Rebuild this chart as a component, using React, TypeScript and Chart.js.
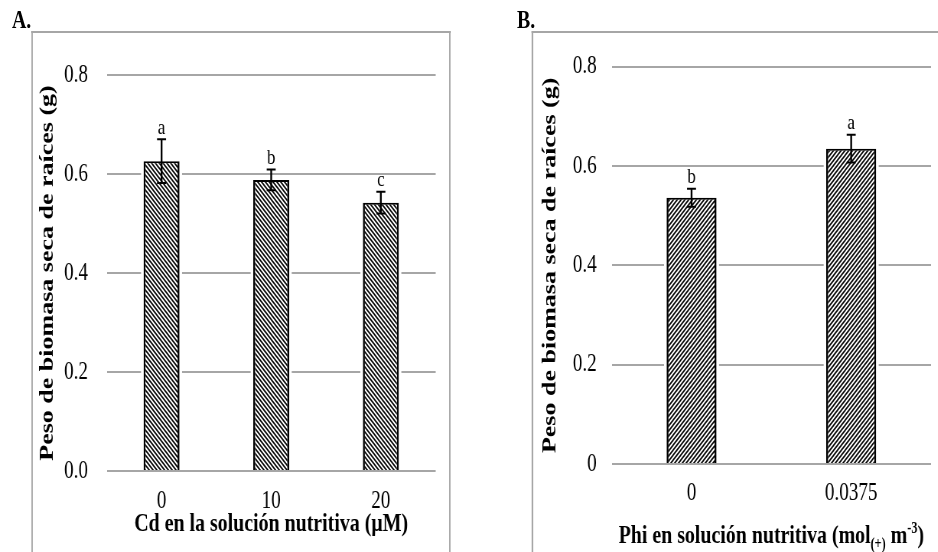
import { useEffect, useRef } from 'react';
import { Chart, registerables } from 'chart.js';

Chart.register(...registerables);

// Panel A: root dry biomass vs. Cd in the nutrient solution
const CATEGORIES_A = ['0', '10', '20'];
const MEANS_A = [0.626, 0.588, 0.542];
const ERRORS_A = [0.044, 0.021, 0.022];
const LETTERS_A = ['a', 'b', 'c'];
const Y_TICKS_A = ['0.0', '0.2', '0.4', '0.6', '0.8'];

// Panel B: root dry biomass vs. Phi in the nutrient solution
const CATEGORIES_B = ['0', '0.0375'];
const MEANS_B = [0.536, 0.635];
const ERRORS_B = [0.018, 0.028];
const LETTERS_B = ['b', 'a'];
const Y_TICKS_B = ['0', '0.2', '0.4', '0.6', '0.8'];

const Y_TITLE = 'Peso de biomasa seca de raíces (g)';
const X_TITLE_A = 'Cd en la solución nutritiva (µM)';

// The whole figure is drawn on a wider logical surface and compressed horizontally.
const SX = 0.765;
const FULL_W = 938 / SX;
const FONT = '"Liberation Serif", "Times New Roman", serif';
const GRID = '#a6a6a6';
const CAP = 5.9;

function hatch(dir: 1 | -1) {
  const s = 5;
  const c = document.createElement('canvas');
  c.width = s;
  c.height = s;
  const g = c.getContext('2d')!;
  g.fillStyle = '#fff';
  g.fillRect(0, 0, s, s);
  g.strokeStyle = '#000';
  g.lineWidth = 1.6;
  for (const k of [-1, 0, 1]) {
    g.beginPath();
    if (dir === 1) {
      g.moveTo(k * s - 1, -1);
      g.lineTo(k * s + s + 1, s + 1);
    } else {
      g.moveTo(k * s - 1, s + 1);
      g.lineTo(k * s + s + 1, -1);
    }
    g.stroke();
  }
  return g.createPattern(c, 'repeat')!;
}

// small white gap between the gridlines and each bar's sides
const gridGap = {
  id: 'gridGap',
  beforeDatasetsDraw(chart: any) {
    const { ctx } = chart;
    const meta = chart.getDatasetMeta(0);
    ctx.save();
    ctx.fillStyle = '#fff';
    meta.data.forEach((bar: any) => {
      const pad = 3.3;
      const left = bar.x - bar.width / 2 - pad;
      const top = Math.min(bar.y, bar.base);
      const bottom = Math.max(bar.y, bar.base) - 1.5;
      ctx.fillRect(left, top, bar.width + 2 * pad, bottom - top);
    });
    ctx.restore();
  },
};

function errorBars(errors: number[], letters: string[]) {
  return {
    id: 'errorBars',
    afterDatasetsDraw(chart: any) {
      const { ctx } = chart;
      const meta = chart.getDatasetMeta(0);
      const y = chart.scales.y;
      const means = chart.data.datasets[0].data as number[];
      ctx.save();
      ctx.strokeStyle = '#000';
      ctx.fillStyle = '#000';
      meta.data.forEach((bar: any, i: number) => {
        const x = bar.x;
        const top = y.getPixelForValue(means[i] + errors[i]);
        const bot = y.getPixelForValue(means[i] - errors[i]);
        ctx.lineWidth = 2.4;
        ctx.beginPath();
        ctx.moveTo(x, top);
        ctx.lineTo(x, bot);
        ctx.stroke();
        ctx.lineWidth = 2;
        ctx.beginPath();
        ctx.moveTo(x - CAP, top);
        ctx.lineTo(x + CAP, top);
        ctx.moveTo(x - CAP, bot);
        ctx.lineTo(x + CAP, bot);
        ctx.stroke();
        ctx.font = `22px ${FONT}`;
        ctx.textAlign = 'center';
        ctx.textBaseline = 'middle';
        ctx.fillText(letters[i], x, top - 11.5);
      });
      ctx.restore();
    },
  };
}

// x-axis title of panel B, with sub- and superscript parts
const richTitleB = {
  id: 'richTitleB',
  afterDraw(chart: any) {
    const { ctx, chartArea } = chart;
    const parts = [
      { t: 'Phi en solución nutritiva (mol', size: 26, dy: 0 },
      { t: '(+)', size: 16, dy: 6 },
      { t: ' m', size: 26, dy: 0 },
      { t: '-3', size: 16, dy: -10 },
      { t: ')', size: 26, dy: 0 },
    ];
    ctx.save();
    ctx.fillStyle = '#000';
    ctx.textBaseline = 'alphabetic';
    ctx.textAlign = 'left';
    let total = 0;
    const widths = parts.map((p) => {
      ctx.font = `bold ${p.size}px ${FONT}`;
      const w = ctx.measureText(p.t).width;
      total += w;
      return w;
    });
    let x = (chartArea.left + chartArea.right) / 2 - total / 2;
    const base = 543;
    parts.forEach((p, i) => {
      ctx.font = `bold ${p.size}px ${FONT}`;
      ctx.fillText(p.t, x, base + p.dy);
      x += widths[i];
    });
    ctx.restore();
  },
};

type PanelSpec = {
  categories: string[];
  means: number[];
  errors: number[];
  letters: string[];
  yTicks: string[];
  pattern: CanvasPattern;
  barPct: number;
  chartLeft: number;
  padRight: number;
  padTop: number;
  xHeight: number;
  yTickPad: number;
  yTitlePad: number;
  xTickPad: number;
  xTitle: string | null;
  extra: any[];
};

function makeChart(canvas: HTMLCanvasElement, p: PanelSpec) {
  return new Chart(canvas, {
    type: 'bar',
    data: {
      labels: p.categories,
      datasets: [
        {
          data: p.means,
          backgroundColor: p.pattern,
          borderColor: '#000',
          borderWidth: { top: 2, left: 2.6, right: 2.6, bottom: 0 },
          borderSkipped: 'start',
          categoryPercentage: 1,
          barPercentage: p.barPct,
        },
      ],
    },
    options: {
      animation: false,
      responsive: true,
      maintainAspectRatio: false,
      layout: { padding: { left: 0, right: p.padRight, top: p.padTop, bottom: 0 } },
      plugins: { legend: { display: false }, tooltip: { enabled: false } },
      scales: {
        x: {
          type: 'category',
          offset: true,
          grid: { display: false, drawTicks: false },
          border: { display: false },
          ticks: {
            color: '#000',
            font: { family: FONT, size: 25 },
            padding: p.xTickPad,
            maxRotation: 0,
            autoSkip: false,
          },
          title: {
            display: !!p.xTitle,
            text: p.xTitle || '',
            color: '#000',
            font: { family: FONT, size: 26, weight: 'bold' },
            padding: { top: 0, bottom: 12 },
          },
          afterFit: (s: any) => {
            s.height = p.xHeight;
          },
        },
        y: {
          min: 0,
          max: 0.8,
          grid: { color: GRID, lineWidth: 2, drawTicks: false },
          border: { display: false },
          ticks: {
            stepSize: 0.2,
            color: '#000',
            font: { family: FONT, size: 25 },
            padding: p.yTickPad,
            callback: (_v: any, i: number) => p.yTicks[i],
          },
          title: {
            display: true,
            text: Y_TITLE,
            color: '#000',
            font: { family: FONT, size: 26, weight: 'bold' },
            padding: { top: p.yTitlePad, bottom: 0 },
          },
          afterFit: (s: any) => {
            s.width = p.chartLeft;
          },
        },
      },
    } as any,
    plugins: [gridGap, errorBars(p.errors, p.letters), ...p.extra],
  });
}

export default function App() {
  const refA = useRef<HTMLCanvasElement>(null);
  const refB = useRef<HTMLCanvasElement>(null);

  useEffect(() => {
    const a = makeChart(refA.current!, {
      categories: CATEGORIES_A,
      means: MEANS_A,
      errors: ERRORS_A,
      letters: LETTERS_A,
      yTicks: Y_TICKS_A,
      pattern: hatch(1),
      barPct: 0.328,
      chartLeft: 139.5,
      padRight: 30.5,
      padTop: 75,
      xHeight: 81,
      yTickPad: 24.5,
      yTitlePad: 47.1,
      xTickPad: 15,
      xTitle: X_TITLE_A,
      extra: [],
    });
    const b = makeChart(refB.current!, {
      categories: CATEGORIES_B,
      means: MEANS_B,
      errors: ERRORS_B,
      letters: LETTERS_B,
      yTicks: Y_TICKS_B,
      pattern: hatch(-1),
      barPct: 0.313,
      chartLeft: 199.6,
      padRight: 9.1,
      padTop: 66.7,
      xHeight: 88,
      yTickPad: 19.6,
      yTitlePad: 103.4,
      xTickPad: 14,
      xTitle: null,
      extra: [richTitleB],
    });
    return () => {
      a.destroy();
      b.destroy();
    };
  }, []);

  const panelLabel = (left: number): React.CSSProperties => ({
    position: 'absolute',
    left,
    top: 7.4,
    font: `bold 26px ${FONT}`,
    lineHeight: '26px',
    color: '#000',
    whiteSpace: 'nowrap',
  });

  return (
    <div
      style={{
        position: 'fixed',
        left: 0,
        top: 0,
        width: 938,
        height: 552,
        overflow: 'hidden',
        background: '#fff',
      }}
    >
      <div
        style={{
          position: 'absolute',
          left: 0,
          top: 0,
          width: FULL_W,
          height: 552,
          transform: `scaleX(${SX})`,
          transformOrigin: '0 0',
        }}
      >
        <div
          style={{
            position: 'absolute',
            left: 40.9,
            top: 31.3,
            width: 548.6,
            height: 600,
            boxSizing: 'border-box',
            borderLeft: `2.6px solid ${GRID}`,
            borderRight: `2.6px solid ${GRID}`,
            borderTop: `2px solid ${GRID}`,
          }}
        />
        <div
          style={{
            position: 'absolute',
            left: 695,
            top: 31.3,
            width: 700,
            height: 600,
            boxSizing: 'border-box',
            borderLeft: `2.6px solid ${GRID}`,
            borderTop: `2px solid ${GRID}`,
          }}
        />
        <div style={panelLabel(15.7)}>A.</div>
        <div style={panelLabel(675.8)}>B.</div>
        <div style={{ position: 'absolute', left: 0, top: 0, width: 600, height: 552 }}>
          <canvas ref={refA} style={{ display: 'block' }} />
        </div>
        <div style={{ position: 'absolute', left: 600, top: 0, width: FULL_W - 600, height: 552 }}>
          <canvas ref={refB} style={{ display: 'block' }} />
        </div>
      </div>
    </div>
  );
}
